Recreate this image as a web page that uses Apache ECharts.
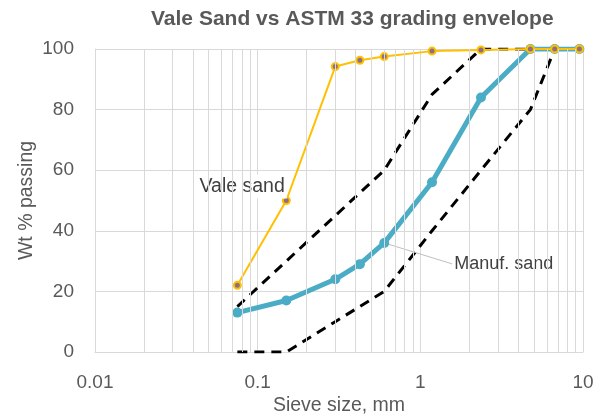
<!DOCTYPE html>
<html>
<head>
<meta charset="utf-8">
<script src="https://cdn.jsdelivr.net/npm/echarts@6/dist/echarts.min.js"></script>
<style>html,body{margin:0;padding:0;background:#fff}#c{width:595px;height:417px}</style>
</head>
<body>
<div id="c"></div>
<script>
var sieveSizes = [0.075, 0.15, 0.3, 0.425, 0.6, 1.18, 2.36, 4.75, 6.7, 9.5];
var valeSand = [22, 50, 94.2, 96.3, 97.5, 99.3, 99.7, 100, 100, 100];
var manufSand = [13, 17, 24, 29, 36, 56, 84, 100, 100, 100];
var envSizes = [0.075, 0.15, 0.3, 0.6, 1.18, 2.36, 4.75, 6.7, 9.5];
var envUpper = [15, 30, 45, 60, 85, 100, 100, 100, 100];
var envLower = [0, 0, 10, 20, 40, 60, 80, 100, 100];
var xTickLabels = ['0.01', '0.1', '1', '10'];
var minorGrid = [0.02,0.03,0.04,0.05,0.06,0.07,0.08,0.09,0.2,0.3,0.4,0.5,0.6,0.7,0.8,0.9,2,3,4,5,6,7,8,9];

function pairs(xs, ys){ return xs.map(function(x,i){ return [x, ys[i]]; }); }

var FONT = 'Liberation Sans';
var TXT = '#595959';
var LBL = '#404040';
var chart = echarts.init(document.getElementById('c'), null, {renderer:'canvas'});
chart.setOption({
  animation: false,
  backgroundColor: '#fff',
  title: {
    text: 'Vale Sand vs ASTM 33 grading envelope',
    left: 146, top: 4,
    textStyle: {fontFamily: FONT, fontSize: 21, fontWeight: 'bold', color: TXT}
  },
  grid: {left: 95, right: 12, top: 49, bottom: 65, containLabel: false, outerBoundsMode: 'none'},
  xAxis: {
    type: 'log', logBase: 10, min: 0.01, max: 10,
    name: 'Sieve size, mm', nameLocation: 'middle', nameGap: 44, nameMoveOverlap: false,
    nameTextStyle: {fontFamily: FONT, fontSize: 19.5, color: TXT},
    axisLine: {show: true, lineStyle: {color: '#D9D9D9', width: 1}},
    axisTick: {show: false},
    axisLabel: {fontFamily: FONT, fontSize: 19, color: TXT, margin: 21,
      formatter: function(v){ var i = Math.round(Math.log10(v)) + 2; return xTickLabels[i] || ''; }},
    splitLine: {show: true, lineStyle: {color: '#D9D9D9', width: 1}}
  },
  yAxis: {
    type: 'value', min: 0, max: 100, interval: 20,
    name: 'Wt % passing', nameLocation: 'middle', nameGap: 58, nameMoveOverlap: false,
    nameTextStyle: {fontFamily: FONT, fontSize: 19.5, color: TXT},
    axisLine: {show: true, lineStyle: {color: '#D9D9D9', width: 1}},
    axisTick: {show: false},
    axisLabel: {fontFamily: FONT, fontSize: 19, color: TXT, margin: 21},
    splitLine: {show: true, lineStyle: {color: '#D9D9D9', width: 1}}
  },
  series: [
    {
      type: 'line', data: [], silent: true, z: 0,
      markLine: {
        silent: true, symbol: ['none','none'], label: {show: false},
        lineStyle: {color: '#D9D9D9', width: 1, type: 'solid'},
        data: minorGrid.map(function(v){ return {xAxis: v}; })
      }
    },
    {
      name: 'Lower', type: 'line', data: pairs(envSizes, envLower),
      showSymbol: false, symbol: 'none', z: 2,
      lineStyle: {color: '#000', width: 3, type: [10, 7]}
    },
    {
      name: 'Upper', type: 'line', data: pairs(envSizes, envUpper),
      showSymbol: false, symbol: 'none', z: 2,
      lineStyle: {color: '#000', width: 3, type: [10, 7]}
    },
    {
      name: 'Manuf. sand', type: 'line', z: 3,
      data: pairs(sieveSizes, manufSand).map(function(p, i){
        if (i === 4) {
          return {value: p, label: {show: true, formatter: 'Manuf. sand', position: 'right',
            fontFamily: FONT, fontSize: 18, color: LBL, backgroundColor: '#fff', padding: [2, 2]},
            labelLine: {show: true, lineStyle: {color: '#BFBFBF', width: 1}}};
        }
        return p;
      }),
      symbol: 'circle', symbolSize: 10,
      itemStyle: {color: '#4BACC6'},
      lineStyle: {color: '#4BACC6', width: 5},
      labelLayout: function(params){ return params.dataIndex === 4 ? {dx: 58, dy: 21} : {}; },
      labelLine: {show: true, lineStyle: {color: '#BFBFBF', width: 1}}
    },
    {
      name: 'Vale sand', type: 'line', z: 4,
      data: pairs(sieveSizes, valeSand).map(function(p, i){
        if (i === 1) {
          return {value: p, label: {show: true, formatter: 'Vale sand', position: 'left',
            distance: 0, offset: [5, -14], fontFamily: FONT, fontSize: 19.5, color: LBL,
            backgroundColor: '#fff', padding: [2, 2]}};
        }
        return p;
      }),
      symbol: 'circle', symbolSize: 7,
      itemStyle: {color: '#8C6F86', borderColor: '#FFC000', borderWidth: 2},
      lineStyle: {color: '#FFC000', width: 2}
    }
  ]
});
</script>
</body>
</html>
